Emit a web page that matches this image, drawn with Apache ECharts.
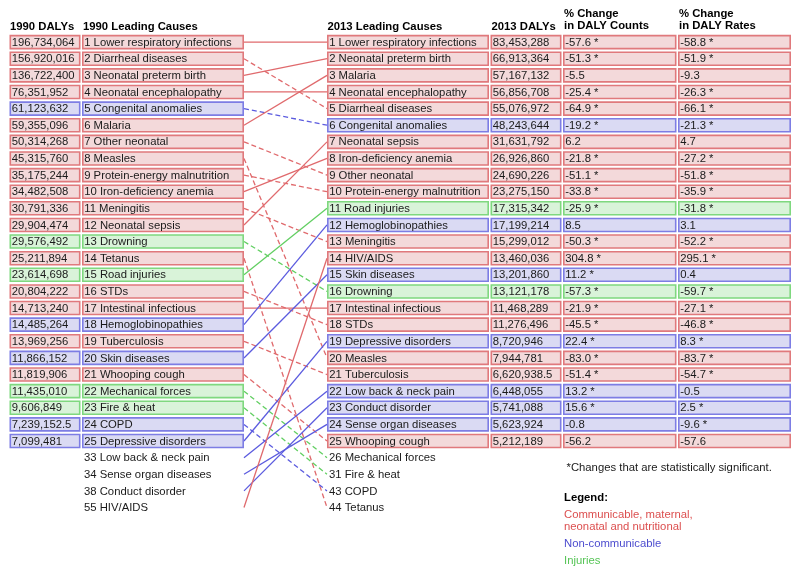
<!DOCTYPE html>
<html><head><meta charset="utf-8">
<script src="https://cdn.jsdelivr.net/npm/echarts@6/dist/echarts.min.js"></script>
<style>html,body{margin:0;padding:0;background:#fff}#c{width:800px;height:574px}</style>
</head><body><div id="c"></div>
<script>
// ---------------- DATA ----------------
const causes1990 = ["Lower respiratory infections","Diarrheal diseases","Neonatal preterm birth","Neonatal encephalopathy","Congenital anomalies","Malaria","Other neonatal","Measles","Protein-energy malnutrition","Iron-deficiency anemia","Meningitis","Neonatal sepsis","Drowning","Tetanus","Road injuries","STDs","Intestinal infectious","Hemoglobinopathies","Tuberculosis","Skin diseases","Whooping cough","Mechanical forces","Fire & heat","COPD","Depressive disorders"];
const dalys1990 = [196734064,156920016,136722400,76351952,61123632,59355096,50314268,45315760,35175244,34482508,30791336,29904474,29576492,25211894,23614698,20804222,14713240,14485264,13969256,11866152,11819906,11435010,9606849,7239152.5,7099481];
const group1990 = ["C","C","C","C","N","C","C","C","C","C","C","C","I","C","I","C","C","N","C","N","C","I","I","N","N"];
const rank2013Of1990 = [1,5,2,4,6,3,9,20,10,8,13,7,16,44,11,18,17,12,21,15,25,26,31,43,19];

const causes2013 = ["Lower respiratory infections","Neonatal preterm birth","Malaria","Neonatal encephalopathy","Diarrheal diseases","Congenital anomalies","Neonatal sepsis","Iron-deficiency anemia","Other neonatal","Protein-energy malnutrition","Road injuries","Hemoglobinopathies","Meningitis","HIV/AIDS","Skin diseases","Drowning","Intestinal infectious","STDs","Depressive disorders","Measles","Tuberculosis","Low back & neck pain","Conduct disorder","Sense organ diseases","Whooping cough"];
const dalys2013 = [83453288,66913364,57167132,56856708,55076972,48243644,31631792,26926860,24690226,23275150,17315342,17199214,15299012,13460036,13201860,13121178,11468289,11276496,8720946,7944781,6620938.5,6448055,5741088,5623924,5212189];
const group2013 = ["C","C","C","C","C","N","C","C","C","C","I","N","C","C","N","I","C","C","N","C","C","N","N","N","C"];
const countChange = [-57.6,-51.3,-5.5,-25.4,-64.9,-19.2,6.2,-21.8,-51.1,-33.8,-25.9,8.5,-50.3,304.8,11.2,-57.3,-21.9,-45.5,22.4,-83.0,-51.4,13.2,15.6,-0.8,-56.2];
const countSig = [1,1,0,1,1,1,0,1,1,1,1,0,1,1,1,1,1,1,1,1,1,1,1,0,0];
const rateChange = [-58.8,-51.9,-9.3,-26.3,-66.1,-21.3,4.7,-27.2,-51.8,-35.9,-31.8,3.1,-52.2,295.1,0.4,-59.7,-27.1,-46.8,8.3,-83.7,-54.7,-0.5,2.5,-9.6,-57.6];
const rateSig = [1,1,0,1,1,1,0,1,1,1,1,0,1,1,0,1,1,1,1,1,1,0,1,1,0];

// causes that enter / leave the top 25
const enteringRank1990 = [33,34,38,55];
const enteringNames = ["Low back & neck pain","Sense organ diseases","Conduct disorder","HIV/AIDS"];
const enteringGroup = ["N","N","N","C"];
const enteringRank2013 = [22,24,23,14];
const leavingRank2013 = [26,31,43,44];
const leavingNames = ["Mechanical forces","Fire & heat","COPD","Tetanus"];

const headers = ["1990 DALYs","1990 Leading Causes","2013 Leading Causes","2013 DALYs","% Change\nin DALY Counts","% Change\nin DALY Rates"];
const footnote = "*Changes that are statistically significant.";
const legendTitle = "Legend:";
const legendLabels = ["Communicable, maternal,\nneonatal and nutritional","Non-communicable","Injuries"];
const legendGroups = ["C","N","I"];

// ---------------- LAYOUT / STYLE ----------------
const FONT_FAMILY = '"Liberation Sans", Arial, sans-serif';
const FS = 11.3;
const FONT = FS + 'px ' + FONT_FAMILY;
const BFONT = 'bold ' + FS + 'px ' + FONT_FAMILY;
const COLS = [[9.5,80.5],[82,244],[327,489],[490.5,561.5],[563,676.5],[678,791]];
const LINK_X = [244, 327];
const ROW1 = 42.5, PITCH = 16.78, YMIN = -1.5, YMAX = 33;
const BOX_H = 14.6, BW = 1.6;
const STYLE = {
  C: {fill:'#f3d9da', stroke:'#e0797c', line:'#e06a6d', legend:'#dc4f4f'},
  N: {fill:'#dadaf3', stroke:'#7d7de4', line:'#5b5bdf', legend:'#4d4dcf'},
  I: {fill:'#d9f3d9', stroke:'#7fd87f', line:'#62cf62', legend:'#55c455'}
};
const TEXT_COLOR = '#1a1a1a';

function fmtNum(v){
  const s = String(v).split('.');
  return s[0].replace(/\B(?=(\d{3})+(?!\d))/g, ',') + (s[1] ? '.' + s[1] : '');
}
function fmtChg(v, sig){ return v.toFixed(1) + (sig ? ' *' : ''); }

// ---------------- BUILD CELLS ----------------
const cells = [];
causes1990.forEach((c,i)=>{
  cells.push({col:0,row:i+1,text:fmtNum(dalys1990[i]),group:group1990[i]});
  cells.push({col:1,row:i+1,text:(i+1)+' '+c,group:group1990[i]});
});
causes2013.forEach((c,i)=>{
  cells.push({col:2,row:i+1,text:(i+1)+' '+c,group:group2013[i]});
  cells.push({col:3,row:i+1,text:fmtNum(dalys2013[i]),group:group2013[i]});
  cells.push({col:4,row:i+1,text:fmtChg(countChange[i],countSig[i]),group:group2013[i]});
  cells.push({col:5,row:i+1,text:fmtChg(rateChange[i],rateSig[i]),group:group2013[i]});
});
enteringNames.forEach((n,j)=>cells.push({col:1,row:26+j,text:enteringRank1990[j]+' '+n,group:null}));
leavingNames.forEach((n,j)=>cells.push({col:2,row:26+j,text:leavingRank2013[j]+' '+n,group:null}));

// ---------------- BUILD LINKS ----------------
const links = [];
rank2013Of1990.forEach((r,i)=>{
  const li = leavingRank2013.indexOf(r);
  const toRow = r <= 25 ? r : 26 + li;
  links.push({from:i+1,to:toRow,group:group1990[i],dashed:r>(i+1)});
});
enteringRank2013.forEach((r,j)=>{
  links.push({from:26+j,to:r,group:enteringGroup[j],dashed:false});
});

// ---------------- CHART ----------------
const chart = echarts.init(document.getElementById('c'), null, {renderer:'canvas'});
const gridTop = ROW1 - PITCH*(1 - YMIN);
const graphics = [];
const HX = [10,83,327.5,491.5,564,679];
headers.forEach((h,i)=>{
  const two = h.indexOf('\n')>=0;
  graphics.push({type:'text', left:HX[i], top: two ? 7 : 20, style:{text:h, font:BFONT, fill:'#000', lineHeight:12.8}});
});
graphics.push({type:'text', left:566.5, top:462.5, style:{text:footnote, font:FONT, fill:TEXT_COLOR}});
graphics.push({type:'text', left:564, top:492, style:{text:legendTitle, font:BFONT, fill:'#000'}});
const LY = [508.5, 537.5, 554.5];
legendLabels.forEach((t,i)=>{
  graphics.push({type:'text', left:564, top:LY[i], style:{text:t, font:FONT, fill:STYLE[legendGroups[i]].legend, lineHeight:12.4}});
});

chart.setOption({
  animation:false,
  backgroundColor:'#fff',
  grid:{left:0, width:800, top:gridTop, height:PITCH*(YMAX-YMIN)},
  xAxis:{type:'value', min:0, max:800, show:false},
  yAxis:{type:'value', min:YMIN, max:YMAX, inverse:true, show:false},
  graphic:graphics,
  series:[
    {
      type:'custom', name:'links', z:1, clip:false,
      data: links.map(l=>[l.from,l.to]),
      renderItem:(params, api)=>{
        const l = links[params.dataIndex];
        const p0 = api.coord([LINK_X[0], api.value(0)]);
        const p1 = api.coord([LINK_X[1], api.value(1)]);
        return {type:'line', shape:{x1:p0[0],y1:p0[1],x2:p1[0],y2:p1[1]},
          style:{stroke:STYLE[l.group].line, lineWidth:1.3, lineDash:l.dashed?[5,3]:null}};
      }
    },
    {
      type:'custom', name:'cells', z:2, clip:false,
      data: cells.map(c=>[c.col,c.row]),
      renderItem:(params, api)=>{
        const c = cells[params.dataIndex];
        const col = COLS[api.value(0)];
        const p0 = api.coord([col[0], api.value(1)]);
        const p1 = api.coord([col[1], api.value(1)]);
        const children = [];
        if (c.group){
          const st = STYLE[c.group];
          children.push({type:'rect', shape:{x:p0[0]+BW/2, y:p0[1]-BOX_H/2+BW/2, width:p1[0]-p0[0]-BW, height:BOX_H-BW},
            style:{fill:st.fill, stroke:st.stroke, lineWidth:BW}});
        }
        children.push({type:'text', style:{text:c.text, x:p0[0]+(c.group?2.2:2), y:p0[1]+0.5, font:FONT, fill:TEXT_COLOR, verticalAlign:'middle', align:'left'}});
        return {type:'group', children};
      }
    }
  ]
});
</script>
</body></html>
